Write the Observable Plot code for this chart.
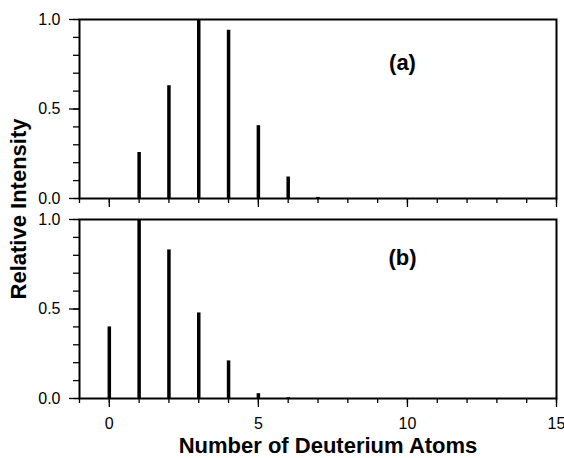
<!DOCTYPE html>
<html><head><meta charset="utf-8">
<script src="https://cdn.jsdelivr.net/npm/d3@7"></script>
<script src="https://cdn.jsdelivr.net/npm/@observablehq/plot@0.6"></script>
<style>
body{margin:0;background:#fff;}
#chart{position:relative;width:564px;height:458px;font-family:"Liberation Sans",Arial,Helvetica,sans-serif;color:#000;background:#fff;}
#chart svg{position:absolute;left:0;}
#ylabel{position:absolute;left:18.5px;top:209px;transform:translate(-50%,-50%) rotate(-90deg);white-space:nowrap;font-weight:bold;font-size:22px;line-height:1;}
</style></head><body><div id="chart"><div id="ylabel">Relative Intensity</div></div>
<script>
// Panel (a)
const atomsA = [1, 2, 3, 4, 5, 6, 7];
const intensityA = [0.257, 0.63, 1.0, 0.94, 0.407, 0.12, 0.006];
// Panel (b)
const atomsB = [0, 1, 2, 3, 4, 5, 6];
const intensityB = [0.40, 1.0, 0.83, 0.478, 0.21, 0.027, 0.004];
// Ticks
const xMinorTicks = [-1,0,1,2,3,4,5,6,7,8,9,10,11,12,13,14,15];
const xMajorTicks = [0, 5, 10, 15];
const yMinorTicks = [0,0.1,0.2,0.3,0.4,0.5,0.6,0.7,0.8,0.9,1.0];
const yMajorTicks = [0, 0.5, 1.0];
const panelLabels = ["(a)", "(b)"];
const xTitle = "Number of Deuterium Atoms";

const font = '"Liberation Sans", Arial, Helvetica, sans-serif';
const blank = () => "";

function panel(atoms, values, label, opts) {
  const idx = atoms.map((_, i) => i);
  const marks = [
    Plot.ruleX(idx, {x: i => atoms[i], y1: 0, y2: i => values[i], stroke: "black", strokeWidth: 3.5}),
    Plot.axisY(yMinorTicks, {tickSize: 6, tickFormat: blank, stroke: "black", strokeWidth: 1.3, label: null}),
    Plot.axisY(yMajorTicks, {tickSize: 10, tickPadding: 9, tickFormat: d3.format(".1f"), stroke: "black", strokeWidth: 1.3, label: null, fontSize: 16}),
    Plot.axisX(xMinorTicks, {tickSize: 5, tickFormat: blank, stroke: "black", strokeWidth: 1.3, label: null}),
    Plot.axisX(xMajorTicks, {tickSize: 9, tickPadding: 10, tickFormat: opts.showX ? d3.format("d") : blank, stroke: "black", strokeWidth: 1.3, label: null, fontSize: 16}),
    Plot.frame({stroke: "black", strokeWidth: 2}),
    Plot.text([label], {text: d => d, frameAnchor: "top-right", dx: -154, dy: opts.labelDy, textAnchor: "middle", lineAnchor: "middle", fontSize: 22, fontWeight: "bold"})
  ];
  if (opts.showX) {
    marks.push(Plot.text([xTitle], {text: d => d, frameAnchor: "bottom", dx: 10, dy: 54, lineAnchor: "bottom", fontSize: 22, fontWeight: "bold"}));
  }
  return Plot.plot({
    width: 564,
    height: opts.height,
    marginLeft: 79,
    marginRight: 8,
    marginTop: opts.marginTop,
    marginBottom: opts.marginBottom,
    x: {domain: [-1, 15], label: null},
    y: {domain: [0, 1], label: null},
    style: {fontFamily: font, fontSize: "16px", color: "black", background: "transparent", overflow: "visible"},
    marks
  });
}

const chartEl = document.getElementById("chart");
const panelTop = panel(atomsA, intensityA, panelLabels[0], {height: 210, marginTop: 19, marginBottom: 12, labelDy: 43, showX: false});
panelTop.style.top = "0px";
chartEl.appendChild(panelTop);
const panelBottom = panel(atomsB, intensityB, panelLabels[1], {height: 248, marginTop: 9, marginBottom: 60, labelDy: 38, showX: true});
panelBottom.style.top = "210px";
chartEl.appendChild(panelBottom);
</script>
</body></html>
